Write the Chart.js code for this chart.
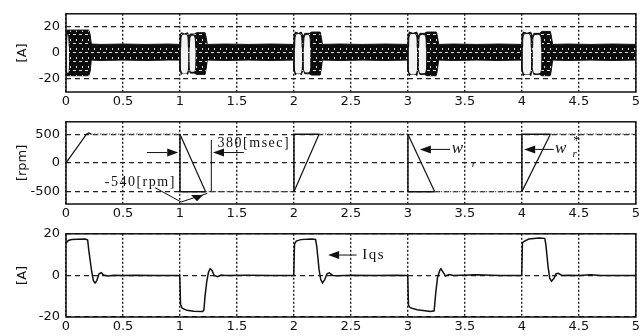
<!DOCTYPE html>
<html>
<head>
<meta charset="utf-8">
<script src="https://cdn.jsdelivr.net/npm/chart.js@4.4.1/dist/chart.umd.min.js"></script>
<style>
    html, body { margin: 0; padding: 0; background: #fff; }
    #quadro { position: relative; width: 642px; height: 336px; overflow: hidden; }
    .painel { position: absolute; left: 0; width: 642px; }
</style>
</head>
<body>
<div id="quadro">
    <div class="painel" style="top:0;height:108px"><canvas id="grafico-corrente"></canvas></div>
    <div class="painel" style="top:108px;height:112px"><canvas id="grafico-velocidade"></canvas></div>
    <div class="painel" style="top:220px;height:116px"><canvas id="grafico-iqs"></canvas></div>
</div>
<script>
// eixo do tempo [s]
const TICKS_X = [0, 0.5, 1, 1.5, 2, 2.5, 3, 3.5, 4, 4.5, 5];
const TICKS_CORRENTE = [-20, 0, 20];
const TICKS_VELOCIDADE = [-500, 0, 500];
const TICKS_IQS = [-20, 0, 20];

// correntes de fase: envoltoria superior / inferior da faixa [A]
const tempoFaixa = [
    0, 0.01, 0.1, 0.2, 0.212, 0.222, 0.3, 0.5, 0.7, 0.9, 0.998,
    1.0, 1.012, 1.04, 1.068, 1.078, 1.09, 1.125, 1.145, 1.22, 1.23, 1.24, 1.4, 1.6, 1.8, 1.998,
    2.0, 2.012, 2.04, 2.065, 2.08, 2.095, 2.135, 2.155, 2.23, 2.24, 2.25, 2.4, 2.6, 2.8, 2.998,
    3.0, 3.012, 3.045, 3.078, 3.09, 3.105, 3.145, 3.165, 3.25, 3.26, 3.27, 3.4, 3.6, 3.8, 3.998,
    4.0, 4.012, 4.045, 4.078, 4.09, 4.105, 4.155, 4.175, 4.25, 4.26, 4.27, 4.4, 4.6, 4.8, 5.0,
];
const faixaSuperior = [
    16, 17.5, 17.5, 17.5, 14, 6.8, 6.5, 6.8, 6.5, 6.8, 6.5,
    13, 15.5, 14.5, 15.5, 12, 14.5, 14.5, 15.5, 15.5, 12, 6.5, 6.8, 6.5, 6.8, 6.5,
    13, 16, 15, 16, 12.5, 15, 15, 16, 16, 12, 6.5, 6.8, 6.5, 6.8, 6.5,
    13, 16, 15, 16, 12.5, 15, 15, 16, 16, 12, 6.5, 6.8, 6.5, 6.8, 6.5,
    13, 16, 15, 16, 12.5, 15, 15, 16.5, 16.5, 12, 6.5, 6.8, 6.5, 6.8, 6.5,
];
const faixaInferior = [
    -16, -17.5, -17.5, -17.5, -14, -5.5, -5.8, -5.5, -5.8, -5.5, -5.5,
    -13, -16.5, -13.5, -16.5, -12, -15.5, -15.5, -16.5, -16.5, -12, -5.5, -5.8, -5.5, -5.8, -5.5,
    -13, -17, -14, -17, -12.5, -16, -16, -17, -17, -12, -5.5, -5.8, -5.5, -5.8, -5.5,
    -13, -17.5, -14, -17.5, -12.5, -16.5, -16.5, -17.5, -17.5, -12, -5.5, -5.8, -5.5, -5.8, -5.5,
    -13, -17.5, -14, -17.5, -12.5, -16.5, -16.5, -17.5, -17.5, -12, -5.5, -5.8, -5.5, -5.8, -5.5,
];
// lobulos abertos (claros) no inicio de cada transitorio
const tempoLobulo = [
    0.004, 0.01, 0.022, 0.028, 0.028,
    1.006, 1.016, 1.064, 1.074, 1.074,
    1.082, 1.092, 1.128, 1.138, 1.138,
    2.006, 2.016, 2.062, 2.072, 2.072,
    2.084, 2.094, 2.136, 2.146, 2.146,
    3.006, 3.016, 3.072, 3.082, 3.082,
    3.094, 3.104, 3.152, 3.162, 3.162,
    4.006, 4.016, 4.072, 4.082, 4.082,
    4.094, 4.104, 4.162, 4.172, 4.172,
];
const lobuloSuperior = [
    5, 14, 14, 5, null,
    4, 13.8, 13.8, 4, null,
    4, 13, 13, 4, null,
    4, 14.2, 14.2, 4, null,
    4, 13.5, 13.5, 4, null,
    4, 14.2, 14.2, 4, null,
    4, 13.5, 13.5, 4, null,
    4, 14.2, 14.2, 4, null,
    4, 13.5, 13.5, 4, null,
];
const lobuloInferior = [
    -5, -15, -15, -5, null,
    -4, -14.8, -14.8, -4, null,
    -4, -14, -14, -4, null,
    -4, -15.2, -15.2, -4, null,
    -4, -14.5, -14.5, -4, null,
    -4, -15.7, -15.7, -4, null,
    -4, -15, -15, -4, null,
    -4, -15.7, -15.7, -4, null,
    -4, -15, -15, -4, null,
];

// velocidade real w_r [rpm]
const tempoWr = [0, 0.18, 0.2, 0.22, 1.0, 1.225, 2.0, 2.22, 3.0, 3.235, 4.0, 4.25, 5.0];
const valorWr = [0, 500, 520, 500, 500, -500, -500, 500, 500, -500, -500, 500, 500];
// referencia w*_r (degraus) [rpm]
const tempoRef = [1.0, 1.0, 1.225, 1.225, 2.0, 2.0, 2.22, 2.22, 3.0, 3.0, 3.235, 3.235, 4.0, 4.0, 4.25];
const valorRef = [500, -500, -500, null, -500, 500, 500, null, 500, -500, -500, null, -500, 500, 500];

// corrente Iqs [A]
const tempoIqs = [
    0, 0.02, 0.05, 0.1, 0.17, 0.19, 0.2, 0.225, 0.24, 0.255, 0.27, 0.29, 0.31, 0.33, 0.37, 0.42, 0.5, 0.6, 0.8, 0.998,
    1.0, 1.005, 1.02, 1.06, 1.12, 1.2, 1.21, 1.22, 1.235, 1.25, 1.265, 1.28, 1.3, 1.33, 1.36, 1.4, 1.6, 1.8, 1.998,
    2.0, 2.005, 2.02, 2.06, 2.15, 2.19, 2.2, 2.22, 2.235, 2.25, 2.27, 2.29, 2.31, 2.34, 2.38, 2.5, 2.7, 2.9, 2.998,
    3.0, 3.005, 3.02, 3.08, 3.2, 3.23, 3.245, 3.26, 3.28, 3.29, 3.31, 3.33, 3.36, 3.4, 3.6, 3.8, 3.998,
    4.0, 4.005, 4.02, 4.06, 4.15, 4.2, 4.21, 4.23, 4.245, 4.26, 4.28, 4.3, 4.32, 4.35, 4.4, 4.5, 4.6, 4.7, 5.0,
];
const valorIqs = [
    15.5, 16.8, 17.3, 17.4, 17.5, 17, 12, 2, -2.5, -3.6, -2.5, 0.8, 1.3, 0.2, -0.3, 0.1, 0, 0.1, -0.1, 0,
    0, -14, -15.8, -16.8, -17.2, -17.4, -16.5, -10, -3, 1.5, 3.2, 2.5, 0, -0.6, 0.2, 0, 0.1, 0, 0,
    0, 15, 16.5, 17.2, 17.5, 17.3, 14, 3, -2, -3.6, -2, 0.8, 1.2, 0, -0.2, 0.1, 0, 0.1, 0,
    0, -14.5, -15.5, -16.5, -17.3, -17, -8, -1, 2.5, 3.2, 1.5, -0.3, 0.4, 0, 0.3, 0, 0,
    0, 15.8, 16.4, 17.5, 18, 17.8, 15, 4, -1.5, -2.8, -1.5, 0.8, 1, 0, 0.1, 0, 0.3, 0, 0,
];

const FONTE_EIXO = { family: 'DejaVu Sans', size: 13 };
const COR = '#111';

function pontos(tempos, valores) {
    return tempos.map((t, i) => ({ x: t, y: valores[i] }));
}

function criarHachura() {
    const tela = document.createElement('canvas');
    tela.width = 6;
    tela.height = 9;
    const c = tela.getContext('2d');
    c.fillStyle = '#0c0c0c';
    c.fillRect(0, 0, 6, 9);
    c.fillStyle = '#d8d8d8';
    c.fillRect(1, 7, 3, 1);
    c.fillRect(4, 3, 1, 2);
    return c.createPattern(tela, 'repeat');
}

function seta(ctx, x1, y1, x2, y2) {
    const ang = Math.atan2(y2 - y1, x2 - x1);
    const L = 11, W = 4;
    ctx.beginPath();
    ctx.moveTo(x1, y1);
    ctx.lineTo(x2 - L * Math.cos(ang), y2 - L * Math.sin(ang));
    ctx.stroke();
    ctx.beginPath();
    ctx.moveTo(x2, y2);
    ctx.lineTo(x2 - L * Math.cos(ang) + W * Math.sin(ang), y2 - L * Math.sin(ang) - W * Math.cos(ang));
    ctx.lineTo(x2 - L * Math.cos(ang) - W * Math.sin(ang), y2 - L * Math.sin(ang) + W * Math.cos(ang));
    ctx.closePath();
    ctx.fill();
}

function texto(ctx, str, x, y, fonte, espaco) {
    ctx.font = fonte;
    ctx.letterSpacing = espaco || '0px';
    ctx.textAlign = 'left';
    ctx.textBaseline = 'middle';
    ctx.fillText(str, x, y);
    ctx.letterSpacing = '0px';
}

const caixa = {
    id: 'caixa',
    afterDatasetsDraw(chart) {
        const { ctx, chartArea: a } = chart;
        ctx.save();
        ctx.strokeStyle = COR;
        ctx.lineWidth = 1.5;
        ctx.strokeRect(a.left, a.top, a.right - a.left, a.bottom - a.top);
        ctx.restore();
    },
};

function opcoes(yMin, yMax, yTicks, titulo, topo, alturaX, anotar) {
    return {
        responsive: true,
        maintainAspectRatio: false,
        animation: false,
        layout: { autoPadding: false, padding: { top: topo, right: 6, left: 0, bottom: 0 } },
        plugins: {
            legend: { display: false },
            tooltip: { enabled: false },
            anotacoes: { desenhar: anotar },
        },
        elements: { point: { radius: 0 }, line: { tension: 0 } },
        scales: {
            x: {
                type: 'linear',
                min: 0,
                max: 5,
                afterBuildTicks: (s) => { s.ticks = TICKS_X.map((v) => ({ value: v })); },
                afterFit: (s) => { s.height = alturaX; },
                grid: { color: '#222', lineWidth: 1.4, drawTicks: false },
                border: { display: false, dash: [2, 2] },
                ticks: { padding: 2, font: FONTE_EIXO, color: COR, maxRotation: 0, autoSkip: false, callback: (v) => String(v) },
            },
            y: {
                min: yMin,
                max: yMax,
                afterBuildTicks: (s) => { s.ticks = yTicks.map((v) => ({ value: v })); },
                afterFit: (s) => { s.width = 66; },
                grid: { color: '#222', lineWidth: 1.2, drawTicks: false },
                border: { display: false, dash: [5, 4] },
                ticks: { padding: 6, font: FONTE_EIXO, color: COR, callback: (v) => String(v) },
                title: { display: true, text: titulo, font: FONTE_EIXO, color: COR, padding: { top: 15, bottom: 0 } },
            },
        },
    };
}

const anotacoes = {
    id: 'anotacoes',
    afterDraw(chart, args, opts) {
        if (!opts.desenhar) return;
        const X = (v) => chart.scales.x.getPixelForValue(v);
        const Y = (v) => chart.scales.y.getPixelForValue(v);
        const ctx = chart.ctx;
        ctx.save();
        ctx.strokeStyle = COR;
        ctx.fillStyle = COR;
        ctx.lineWidth = 1;
        opts.desenhar(ctx, X, Y);
        ctx.restore();
    },
};

function anotarVelocidade(ctx, X, Y) {
    seta(ctx, X(0.71), Y(180), X(0.985), Y(180));
    seta(ctx, X(1.56), Y(180), X(1.29), Y(180));
    ctx.beginPath();
    ctx.moveTo(X(1.275), Y(400));
    ctx.lineTo(X(1.275), Y(-500));
    ctx.stroke();
    texto(ctx, '380[msec]', X(1.33), Y(345), '14px "Liberation Serif"', '1.5px');
    texto(ctx, '-540[rpm]', X(0.34), Y(-335), '14px "Liberation Serif"', '1.5px');
    ctx.beginPath();
    ctx.moveTo(X(0.78), Y(-430));
    ctx.lineTo(X(1.01), Y(-680));
    ctx.lineTo(X(1.24), Y(-530));
    ctx.stroke();
    ctx.beginPath();
    ctx.moveTo(X(1.15) - 6, Y(-560));
    ctx.lineTo(X(1.15) + 6, Y(-560));
    ctx.lineTo(X(1.15), Y(-665));
    ctx.closePath();
    ctx.fill();

    seta(ctx, X(3.37), Y(235), X(3.105), Y(235));
    texto(ctx, 'w', X(3.385), Y(250), 'italic 17px "Liberation Serif"');
    texto(ctx, 'r', X(3.56), Y(-15), 'italic 11px "Liberation Serif"');

    seta(ctx, X(4.28), Y(235), X(4.02), Y(235));
    texto(ctx, 'w', X(4.29), Y(250), 'italic 17px "Liberation Serif"');
    texto(ctx, '*', X(4.45), Y(390), '13px "Liberation Serif"');
    texto(ctx, 'r', X(4.445), Y(160), 'italic 11px "Liberation Serif"');
}

function anotarIqs(ctx, X, Y) {
    seta(ctx, X(2.55), Y(9.8), X(2.3), Y(9.8));
    texto(ctx, 'Iqs', X(2.6), Y(10), '15px "Liberation Serif"', '1.5px');
}

Chart.register(caixa, anotacoes);

const hachura = criarHachura();

new Chart(document.getElementById('grafico-corrente'), {
    type: 'line',
    data: {
        datasets: [
            { data: pontos(tempoLobulo, lobuloSuperior), borderColor: COR, borderWidth: 1, backgroundColor: '#f4f4f4', fill: '+1', spanGaps: false, tension: 0.3 },
            { data: pontos(tempoLobulo, lobuloInferior), borderColor: COR, borderWidth: 1, fill: false, spanGaps: false, tension: 0.3 },
            { data: pontos(tempoFaixa, faixaSuperior), borderColor: COR, borderWidth: 1, backgroundColor: hachura, fill: '+1' },
            { data: pontos(tempoFaixa, faixaInferior), borderColor: COR, borderWidth: 1, fill: false },
        ],
    },
    options: opcoes(-30, 30, TICKS_CORRENTE, '[A]', 6, 16, null),
});

new Chart(document.getElementById('grafico-velocidade'), {
    type: 'line',
    data: {
        datasets: [
            { data: pontos(tempoRef, valorRef), borderColor: COR, borderWidth: 1.5, fill: false, spanGaps: false },
            {
                data: pontos(tempoWr, valorWr),
                borderColor: COR,
                borderWidth: 1.2,
                fill: false,
                segment: {
                    borderDash: (c) => (c.p0.parsed.y === c.p1.parsed.y ? [1.5, 1.5] : undefined),
                    borderColor: (c) => (c.p0.parsed.y === c.p1.parsed.y ? '#666' : undefined),
                },
            },
        ],
    },
    options: opcoes(-715, 715, TICKS_VELOCIDADE, '[rpm]', 11, 16, anotarVelocidade),
});

new Chart(document.getElementById('grafico-iqs'), {
    type: 'line',
    data: {
        datasets: [
            { data: pontos(tempoIqs, valorIqs), borderColor: COR, borderWidth: 1.5, fill: false },
        ],
    },
    options: opcoes(-20, 20, TICKS_IQS, '[A]', 13, 19, anotarIqs),
});
</script>
</body>
</html>
